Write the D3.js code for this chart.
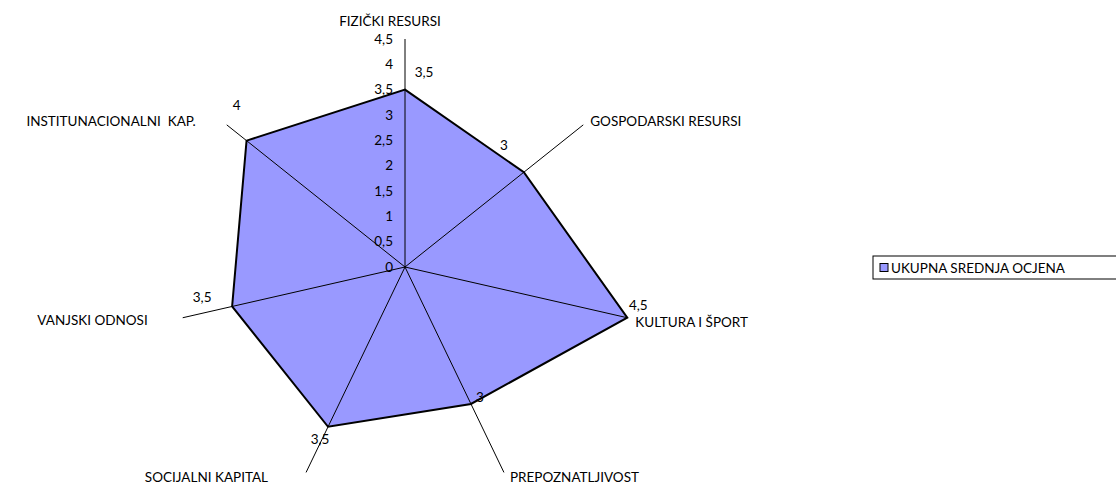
<!DOCTYPE html>
<html>
<head>
<meta charset="utf-8">
<script src="https://cdn.jsdelivr.net/npm/d3@7.9.0/dist/d3.min.js"></script>
<style>
  body { margin: 0; background: #fff; }
  svg text { font-family: Lato, "Open Sans", sans-serif; font-size: 13.5px; fill: #000; white-space: pre; }
</style>
</head>
<body>
<svg id="chart" width="1116" height="485"></svg>
<script>
// data
const categories = ["FIZIČKI RESURSI", "GOSPODARSKI RESURSI", "KULTURA I ŠPORT", "PREPOZNATLJIVOST",
                    "SOCIJALNI KAPITAL", "VANJSKI ODNOSI", "INSTITUNACIONALNI  KAP."];
const values = [3.5, 3, 4.5, 3, 3.5, 3.5, 4];
const ticks = [0, 0.5, 1, 1.5, 2, 2.5, 3, 3.5, 4, 4.5];
const seriesName = "UKUPNA SREDNJA OCJENA";

const svg = d3.select("#chart");
const cx = 405, cy = 267;
const fmt = d => String(d).replace(".", ",");

const r = d3.scaleLinear().domain([0, 4.5]).range([0, 228]);
const angle = i => i * 2 * Math.PI / categories.length;
const px = (i, v) => cx + r(v) * Math.sin(angle(i));
const py = (i, v) => cy - r(v) * Math.cos(angle(i));

// filled area
const pts = values.map((v, i) => [px(i, v), py(i, v)]);
svg.append("path")
  .attr("d", d3.line().curve(d3.curveLinearClosed)(pts))
  .attr("fill", "#9999ff")
  .attr("stroke", "#000")
  .attr("stroke-width", 2)
  .attr("stroke-linejoin", "miter");

// spokes
categories.forEach((c, i) => {
  svg.append("line")
    .attr("x1", cx).attr("y1", cy)
    .attr("x2", px(i, 4.5)).attr("y2", py(i, 4.5))
    .attr("stroke", "#000").attr("stroke-width", 1);
});

// radial tick labels
svg.selectAll(".tick").data(ticks).join("text")
  .attr("x", cx - 12)
  .attr("y", d => cy - r(d))
  .attr("dy", "0.35em")
  .attr("text-anchor", "end")
  .text(fmt);

// category labels
const catOffset = [[-15, -18, "middle"], [7, -4, "start"], [8, 5, "start"], [6, 5, "start"],
                   [-38, 5, "end"], [-35, 3, "end"], [-31, -4, "end"]];
categories.forEach((c, i) => {
  const o = catOffset[i];
  svg.append("text")
    .attr("x", px(i, 4.5) + o[0])
    .attr("y", py(i, 4.5) + o[1])
    .attr("dy", "0.35em")
    .attr("text-anchor", o[2])
    .text(c);
});

// value labels
const valOffset = [[19, -17], [-20, -27], [11, -12], [9, -7], [-8, 13], [-30, -9], [-10, -35]];
values.forEach((v, i) => {
  svg.append("text")
    .attr("x", px(i, v) + valOffset[i][0])
    .attr("y", py(i, v) + valOffset[i][1])
    .attr("dy", "0.35em")
    .attr("text-anchor", "middle")
    .text(fmt(v));
});

// legend
const lg = svg.append("g").attr("transform", "translate(873,256)");
lg.append("rect").attr("x", 0).attr("y", 0).attr("width", 250).attr("height", 23)
  .attr("fill", "#fff").attr("stroke", "#000").attr("stroke-width", 1);
lg.append("rect").attr("x", 7).attr("y", 7.5).attr("width", 8).attr("height", 8)
  .attr("fill", "#9999ff").attr("stroke", "#000").attr("stroke-width", 1);
lg.append("text").attr("x", 18).attr("y", 12).attr("dy", "0.35em").text(seriesName);
</script>
</body>
</html>
